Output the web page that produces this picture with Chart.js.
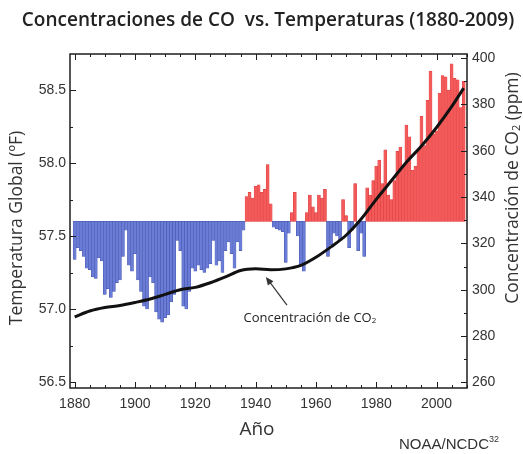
<!DOCTYPE html>
<html>
<head>
<meta charset="utf-8">
<script src="https://cdn.jsdelivr.net/npm/chart.js@4.4.1/dist/chart.umd.min.js"></script>
<style>
  html, body { margin: 0; padding: 0; background: #fff; }
  #wrap { width: 523px; height: 454px; position: relative; }
</style>
</head>
<body>
<div id="wrap"><canvas id="chart"></canvas></div>
<script>
// Temperatura global anual (°F), 1880-2009
const firstYear = 1880;
const temps = [
  57.34, 57.42, 57.40, 57.36, 57.28, 57.27, 57.22, 57.21, 57.35, 57.33,
  57.10, 57.14, 57.08, 57.12, 57.18, 57.20, 57.36, 57.54, 57.30, 57.26,
  57.38, 57.20, 57.12, 57.02, 57.00, 57.22, 57.18, 56.98, 56.93, 56.91,
  56.94, 56.96, 57.05, 57.10, 57.47, 57.40, 57.02, 57.00, 57.12, 57.28,
  57.26, 57.30, 57.27, 57.25, 57.28, 57.31, 57.47, 57.30, 57.33, 57.25,
  57.40, 57.46, 57.38, 57.28, 57.46, 57.40, 57.54, 57.77, 57.80, 57.76,
  57.84, 57.85, 57.80, 57.82, 57.99, 57.72, 57.56, 57.55, 57.54, 57.53,
  57.32, 57.52, 57.66, 57.80, 57.50, 57.30, 57.26, 57.66, 57.78, 57.70,
  57.66, 57.78, 57.76, 57.82, 57.36, 57.44, 57.52, 57.50, 57.47, 57.75,
  57.64, 57.42, 57.54, 57.86, 57.40, 57.52, 57.36, 57.83, 57.78, 57.88,
  57.98, 58.02, 57.86, 58.09, 57.78, 57.75, 57.88, 58.08, 58.11, 57.98,
  58.26, 58.18, 57.95, 57.98, 58.09, 58.32, 58.12, 58.43, 58.63, 58.20,
  58.22, 58.48, 58.60, 58.59, 58.50, 58.68, 58.58, 58.57, 58.38, 58.56,
];
const years = temps.map((_, i) => firstYear + i);
const baseTemp = 57.6;

// Concentración de CO2 (ppm)
const co2Years = [1880, 1885, 1890, 1895, 1900, 1905, 1910, 1915, 1920, 1925, 1930, 1935, 1940,
  1945, 1950, 1955, 1960, 1965, 1970, 1975, 1980, 1985, 1990, 1995, 2000, 2005, 2009];
const co2Ppm = [288.3, 290.8, 292.3, 293.2, 294.5, 296.0, 298.0, 300.0, 301.0, 303.0, 305.5, 308.3, 309.0,
  308.6, 309.0, 310.5, 314.0, 318.5, 323.5, 330.5, 339.0, 347.0, 355.0, 362.0, 370.0, 379.0, 387.0];

const yearTicks = [1880, 1900, 1920, 1940, 1960, 1980, 2000];
const tempTicks = [56.5, 57.0, 57.5, 58.0, 58.5];
const co2Ticks = [260, 280, 300, 320, 340, 360, 380, 400];

const palette = {
  ink: "#1e1e1e",
  text: "#333333",
  blue: "#6a7cd6",
  blueEdge: "#4455ad",
  red: "#f55a5a",
  redEdge: "#d83e3e",
};

const sansTitle = '"Open Sans", "Noto Sans", sans-serif';
const sansTicks = '"Liberation Sans", Arial, sans-serif';

// draws text pieces one after another (for sub/superscripts), centred on (x, y)
function drawRuns(ctx, runs, x, y, rotation) {
  ctx.save();
  ctx.translate(x, y);
  ctx.rotate(rotation || 0);
  let total = 0;
  runs.forEach((r) => {
    ctx.font = r.font;
    total += ctx.measureText(r.text).width;
  });
  let cx = -total / 2;
  ctx.textBaseline = "middle";
  ctx.textAlign = "left";
  runs.forEach((r) => {
    ctx.font = r.font;
    ctx.fillStyle = r.color || palette.text;
    ctx.fillText(r.text, cx, r.dy || 0);
    cx += ctx.measureText(r.text).width;
  });
  ctx.restore();
}

const decorations = {
  id: "decorations",
  afterDraw(chart) {
    const { ctx, chartArea: a, scales } = chart;
    const xs = scales.x;
    const ts = scales.temp;
    const cs = scales.co2;
    ctx.save();

    // inward tick marks on all four sides
    ctx.strokeStyle = palette.ink;
    ctx.lineWidth = 1;
    ctx.beginPath();
    for (let yr = 1880; yr <= xs.max; yr += 5) {
      const px = Math.round(xs.getPixelForValue(yr)) + 0.5;
      const len = yr % 20 === 0 ? 6 : 3;
      ctx.moveTo(px, a.bottom);
      ctx.lineTo(px, a.bottom - len);
      ctx.moveTo(px, a.top);
      ctx.lineTo(px, a.top + len);
    }
    for (let i = 0; i <= 8; i++) {
      const v = 56.5 + i * 0.25;
      const py = Math.round(ts.getPixelForValue(v)) + 0.5;
      ctx.moveTo(a.left, py);
      ctx.lineTo(a.left + (i % 2 === 0 ? 6 : 3), py);
    }
    for (let v = 260; v <= 400; v += 10) {
      const py = Math.round(cs.getPixelForValue(v)) + 0.5;
      ctx.moveTo(a.right, py);
      ctx.lineTo(a.right - (v % 20 === 0 ? 6 : 3), py);
    }
    ctx.stroke();

    ctx.lineWidth = 1.5;
    ctx.strokeRect(a.left, a.top, a.right - a.left, a.bottom - a.top);

    // title
    drawRuns(ctx, [{ text: "Concentraciones de CO  vs. Temperaturas (1880-2009)", font: `600 19px ${sansTitle}`, color: "#222" }], 268, 21);

    // axis titles
    drawRuns(ctx, [{ text: "Temperatura Global (ºF)", font: `17.5px ${sansTitle}` }], 17, 228, -Math.PI / 2);
    drawRuns(ctx, [
      { text: "Concentración de CO", font: `17.5px ${sansTitle}` },
      { text: "2", font: `11px ${sansTitle}`, dy: 4 },
      { text: " (ppm)", font: `17.5px ${sansTitle}` },
    ], 513, 188, -Math.PI / 2);
    drawRuns(ctx, [{ text: "Año", font: `19px ${sansTitle}` }], 257, 430);

    // source
    drawRuns(ctx, [
      { text: "NOAA/NCDC", font: `15px ${sansTicks}` },
      { text: "32", font: `9px ${sansTicks}`, dy: -5 },
    ], 449, 445);

    // arrow pointing to the CO2 curve
    const tipX = xs.getPixelForValue(1943.4);
    const tipY = cs.getPixelForValue(305.5);
    const tailX = xs.getPixelForValue(1950.4);
    const tailY = cs.getPixelForValue(293.4);
    const ang = Math.atan2(tipY - tailY, tipX - tailX);
    ctx.strokeStyle = "#333";
    ctx.fillStyle = "#333";
    ctx.lineWidth = 1.2;
    ctx.beginPath();
    ctx.moveTo(tailX, tailY);
    ctx.lineTo(tipX - 5 * Math.cos(ang), tipY - 5 * Math.sin(ang));
    ctx.stroke();
    ctx.beginPath();
    ctx.moveTo(tipX, tipY);
    ctx.lineTo(tipX - 8 * Math.cos(ang) + 3.5 * Math.sin(ang), tipY - 8 * Math.sin(ang) - 3.5 * Math.cos(ang));
    ctx.lineTo(tipX - 8 * Math.cos(ang) - 3.5 * Math.sin(ang), tipY - 8 * Math.sin(ang) + 3.5 * Math.cos(ang));
    ctx.closePath();
    ctx.fill();
    drawRuns(ctx, [
      { text: "Concentración de CO", font: `13px ${sansTitle}`, color: "#222" },
      { text: "2", font: `8px ${sansTitle}`, dy: 3, color: "#222" },
    ], xs.getPixelForValue(1958), cs.getPixelForValue(287.8));

    ctx.restore();
  },
};

const tickFont = { family: sansTicks, size: 14 };

new Chart(document.getElementById("chart"), {
  type: "bar",
  data: {
    datasets: [
      {
        type: "line",
        label: "CO2",
        data: co2Years.map((x, i) => ({ x, y: co2Ppm[i] })),
        xAxisID: "x",
        yAxisID: "co2",
        borderColor: "#111",
        borderWidth: 3,
        pointRadius: 0,
        cubicInterpolationMode: "monotone",
        order: 0,
      },
      {
        type: "bar",
        label: "Temperatura",
        data: years.map((x, i) => ({ x, y: temps[i] })),
        xAxisID: "x",
        yAxisID: "temp",
        base: baseTemp,
        backgroundColor: temps.map((t) => (t >= baseTemp ? palette.red : palette.blue)),
        borderColor: temps.map((t) => (t >= baseTemp ? palette.redEdge : palette.blueEdge)),
        borderWidth: 0.5,
        borderSkipped: false,
        barPercentage: 1,
        categoryPercentage: 1,
        order: 1,
      },
    ],
  },
  options: {
    responsive: true,
    maintainAspectRatio: false,
    animation: false,
    layout: { padding: { top: 54, left: 0, right: 0, bottom: 0 } },
    plugins: {
      legend: { display: false },
      tooltip: { enabled: false },
      title: { display: false },
    },
    scales: {
      x: {
        type: "linear",
        min: 1878.45,
        max: 2010.1,
        offset: false,
        grid: { display: false, drawTicks: false },
        border: { display: false },
        afterBuildTicks: (s) => { s.ticks = yearTicks.map((v) => ({ value: v })); },
        afterFit: (s) => { s.height = 66; },
        ticks: { padding: 8, color: palette.text, font: tickFont, maxRotation: 0, autoSkip: false, callback: (v) => String(v) },
      },
      temp: {
        type: "linear",
        axis: "y",
        position: "left",
        min: 56.459,
        max: 58.747,
        grid: { display: false, drawTicks: false },
        border: { display: false },
        afterBuildTicks: (s) => { s.ticks = tempTicks.map((v) => ({ value: v })); },
        afterFit: (s) => { s.width = 70; },
        ticks: { padding: 4, color: palette.text, font: tickFont, callback: (v) => v.toFixed(1) },
      },
      co2: {
        type: "linear",
        axis: "y",
        position: "right",
        min: 257.6,
        max: 401.7,
        grid: { display: false, drawTicks: false },
        border: { display: false },
        afterBuildTicks: (s) => { s.ticks = co2Ticks.map((v) => ({ value: v })); },
        afterFit: (s) => { s.width = 56; },
        ticks: { padding: 5, color: palette.text, font: tickFont, callback: (v) => String(v) },
      },
    },
  },
  plugins: [decorations],
});
</script>
</body>
</html>
